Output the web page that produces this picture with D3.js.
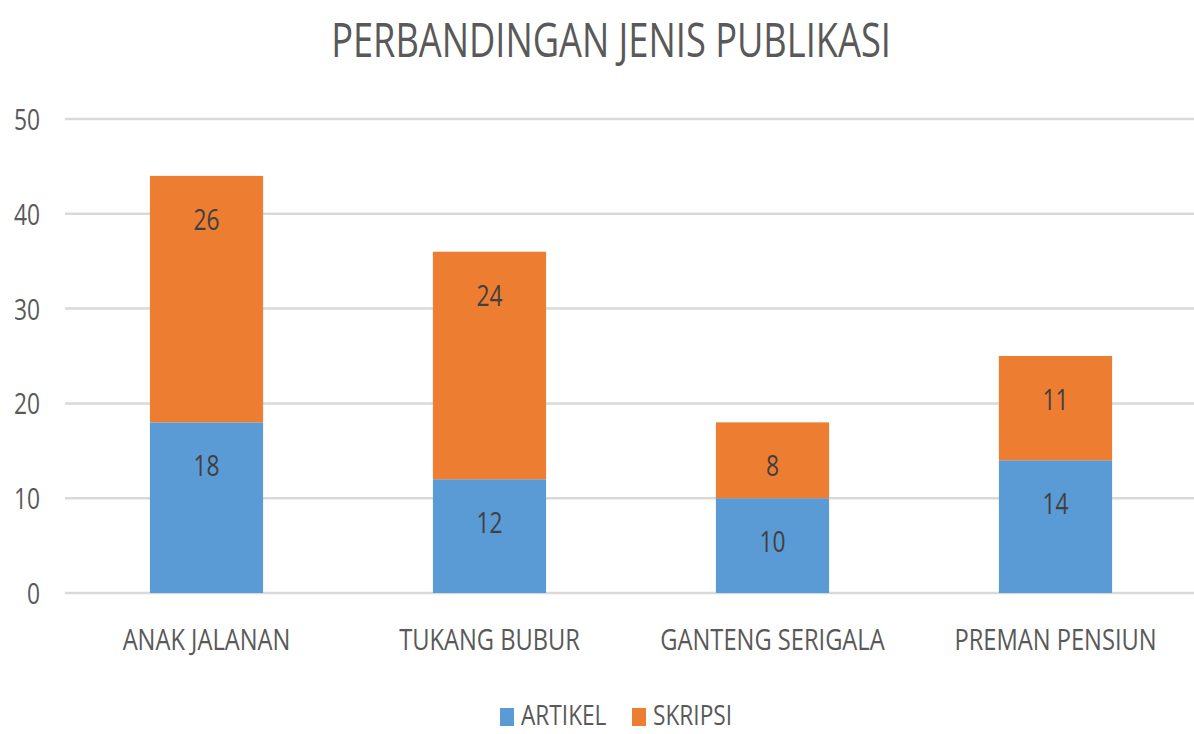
<!DOCTYPE html>
<html lang="en">
<head>
<meta charset="UTF-8">
<script src="https://d3js.org/d3.v7.min.js"></script>
<style>
  body { margin: 0; background: #fff; }
  text { font-family: "Open Sans", sans-serif; fill: #595959; }
</style>
</head>
<body>
<div id="chart"></div>
<script>
// Data
const categories = ["ANAK JALANAN", "TUKANG BUBUR", "GANTENG SERIGALA", "PREMAN PENSIUN"];
const artikel = [18, 12, 10, 14];
const skripsi = [26, 24, 8, 11];
const seriesNames = ["ARTIKEL", "SKRIPSI"];
const yTicks = [0, 10, 20, 30, 40, 50];

const width = 1194, height = 734;
const colors = { ARTIKEL: "#5B9BD5", SKRIPSI: "#ED7D31" };

const svg = d3.select("#chart").append("svg")
  .attr("width", width)
  .attr("height", height);

// condensed text helper (the original font is narrow)
function label(g, x, y, str, size, anchor, squeeze) {
  return g.append("text")
    .attr("transform", `translate(${x},${y}) scale(${squeeze || 0.79},1)`)
    .attr("text-anchor", anchor || "middle")
    .attr("font-size", size)
    .text(str);
}

// Scales
const x = d3.scaleBand()
  .domain(categories)
  .range([65, 1197])
  .paddingInner(0.6)
  .paddingOuter(0.3);

const y = d3.scaleLinear()
  .domain([0, 50])
  .range([593, 119]);

// Title
label(svg, 611, 57, "PERBANDINGAN JENIS PUBLIKASI", 48, "middle", 0.755);

// Gridlines
svg.append("g")
  .selectAll("line")
  .data(yTicks)
  .join("line")
  .attr("x1", 65)
  .attr("x2", 1197)
  .attr("y1", d => y(d))
  .attr("y2", d => y(d))
  .attr("stroke", "#D9D9D9")
  .attr("stroke-width", 2.5);

// Y tick labels
yTicks.forEach(t => label(svg, 40, y(t) + 11, t, 30, "end", 0.76));

// Stacked data
const rows = categories.map((c, i) => ({ cat: c, ARTIKEL: artikel[i], SKRIPSI: skripsi[i] }));
const stacked = d3.stack().keys(seriesNames)(rows);

const layers = svg.append("g")
  .selectAll("g")
  .data(stacked)
  .join("g")
  .attr("fill", d => colors[d.key]);

layers.selectAll("rect")
  .data(d => d)
  .join("rect")
  .attr("x", d => x(d.data.cat))
  .attr("width", x.bandwidth())
  .attr("y", d => y(d[1]))
  .attr("height", d => y(d[0]) - y(d[1]));

// Data labels (inside end)
stacked.forEach(layer => {
  layer.forEach(d => {
    label(svg, x(d.data.cat) + x.bandwidth() / 2, y(d[1]) + 54, d[1] - d[0], 30, "middle", 0.76)
      .style("fill", "#404040");
  });
});

// Category labels
categories.forEach(c => label(svg, x(c) + x.bandwidth() / 2, 650, c, 30));

// Legend
const legend = svg.append("g");
const legendX = [500, 632];
seriesNames.forEach((s, i) => {
  legend.append("rect")
    .attr("x", legendX[i])
    .attr("y", 708)
    .attr("width", 14)
    .attr("height", 18)
    .attr("fill", colors[s]);
  label(legend, legendX[i] + 21, 725, s, 28, "start", 0.81);
});
</script>
</body>
</html>
